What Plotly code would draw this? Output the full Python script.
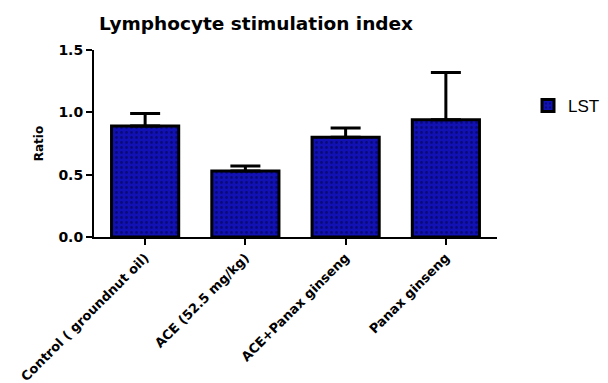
import plotly.graph_objects as go

categories = ["Control ( groundnut oil)", "ACE (52.5 mg/kg)", "ACE+Panax ginseng", "Panax ginseng"]
means = [0.89, 0.53, 0.80, 0.94]
errors_up = [0.10, 0.04, 0.075, 0.38]
series_name = "LST"

BOLD = "DejaVu Sans"

fig = go.Figure()
fig.add_trace(go.Bar(
    x=categories, y=means, name=series_name, width=0.67,
    marker=dict(color="#1212b4", line=dict(color="black", width=3),
                pattern=dict(shape=".", fgcolor="#000040", bgcolor="#1212b4", size=5, solidity=0.25)),
    error_y=dict(type="data", symmetric=False, array=errors_up, arrayminus=[0]*len(means),
                 color="black", thickness=3, width=15),
    showlegend=True,
))

fig.update_layout(
    width=608, height=383,
    margin=dict(l=94, r=111, t=50, b=146, autoexpand=False),
    paper_bgcolor="white", plot_bgcolor="white",
    font=dict(family="Liberation Sans, Arial", color="black"),
    title=dict(text="<b>Lymphocyte stimulation index</b>", x=256/608, xref="container", xanchor="center",
               y=1-24/383, yref="container", yanchor="middle", font=dict(size=18.5, family=BOLD)),
    legend=dict(x=528/608, xref="container", y=1-106/383, yref="container",
                xanchor="left", yanchor="middle", font=dict(size=17),
                bgcolor="rgba(0,0,0,0)"),
    bargap=0.33,
)
fig.update_xaxes(range=[-0.51, 3.51], showline=True, linecolor="black", linewidth=2, automargin=False,
                 ticks="outside", ticklen=6, tickwidth=2, tickcolor="black", tickangle=-45,
                 tickfont=dict(size=13, family=BOLD), showgrid=False,
                 tickprefix="<b>", ticksuffix="</b>")
fig.update_yaxes(range=[0, 1.5], tickvals=[0, 0.5, 1.0, 1.5], ticktext=["<b>0.0</b>", "<b>0.5</b>", "<b>1.0</b>", "<b>1.5</b>"],
                 showline=True, linecolor="black", linewidth=2, ticks="outside", ticklen=6, tickwidth=2,
                 tickcolor="black", showgrid=False, zeroline=False, tickfont=dict(size=14, family=BOLD),
                 automargin=False,
                 title=dict(text="<b>Ratio</b>", font=dict(size=12, family=BOLD), standoff=12))

fig.write_html("out.html")
